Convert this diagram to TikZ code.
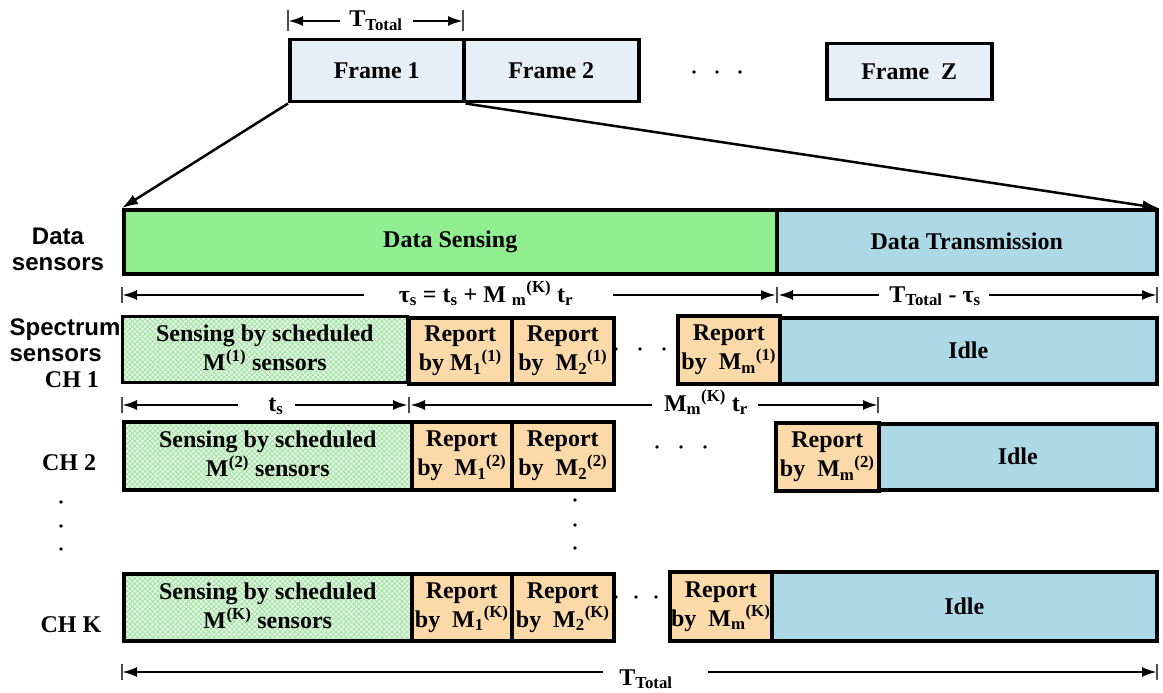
\documentclass[tikz,border=0pt]{standalone}
\usepackage{fontspec}
\setmainfont{Liberation Serif}
\newfontfamily\lsans{Liberation Sans}
\usetikzlibrary{arrows.meta,patterns.meta}

\definecolor{frameFill}{HTML}{E6EEF7}
\definecolor{senseFill}{HTML}{90EE90}
\definecolor{txFill}{HTML}{ADD8E6}
\definecolor{reportFill}{HTML}{FBD9A8}
\definecolor{meshBg}{HTML}{E2F7E2}
\definecolor{meshLn}{HTML}{9FE09F}

% T with "Total" index, and M with index and channel superscript
\newcommand{\Tt}{T\textsubscript{Total}}
\newcommand{\Mix}[2]{M\textsubscript{#1}\textsuperscript{(#2)}}

\begin{document}
\begin{tikzpicture}[x=1pt,y=-1pt,
  every node/.style={font=\fontsize{24}{29}\selectfont\bfseries, inner sep=0pt},
  cell/.style={draw, line width=3.5pt, align=center, anchor=north west},
  framecell/.style={cell, fill=frameFill},
  sensecell/.style={cell, fill=senseFill},
  txcell/.style={cell, fill=txFill},
  reportcell/.style={cell, fill=reportFill},
  meshcell/.style={cell,
    preaction={fill=meshBg},
    preaction={pattern={Lines[angle=45,distance=3.6pt,line width=0.7pt]}, pattern color=meshLn},
    pattern={Lines[angle=-45,distance=3.6pt,line width=0.7pt]}, pattern color=meshLn},
  sanslbl/.style={font=\lsans\fontsize{24}{26}\selectfont\bfseries},
  dimline/.style={line width=2.5pt, -{Latex[length=15pt,width=10pt]}},
  tick/.style={line width=1.3pt, black!70},
  zoomline/.style={line width=2.5pt, -{Latex[length=16pt,width=11pt]}},
  dot/.style={fill=black}
]
\useasboundingbox (0,0) rectangle (1163,693);

% ---------------- frame sequence ----------------
\node[framecell, minimum width=174pt, minimum height=62pt] (f1) at (288,38) {Frame 1};
\node[framecell, minimum width=175pt, minimum height=62pt] (f2) at (462,38) {Frame 2};
\node[framecell, minimum width=165pt, minimum height=56pt] (fz) at (825,42) {Frame\ \ Z};
\fill[dot] (694,72) circle (1.8) (717,72) circle (1.8) (740,72) circle (1.8);

% frame length
\coordinate (topL) at (288,21);
\coordinate (topR) at (463,21);
\coordinate (topLe) at (340,21);
\coordinate (topRs) at (413,21);
\node[anchor=base] (topT) at (376,27) {\Tt};
\draw[dimline] (topLe) -- (topL);
\draw[dimline] (topRs) -- (topR);
\draw[tick] (topL) ++(0,-11) -- ++(0,21);
\draw[tick] (topR) ++(0,-11) -- ++(0,21);

% ---------------- data sensors ----------------
\node[sensecell, minimum width=653pt, minimum height=64pt] (ds) at (122,208) {Data Sensing};
\node[txcell, minimum width=380pt, minimum height=64pt] (dt) at (775,208) {Data Transmission};
\node[sanslbl, align=center] (dsl) at (58,249) {Data\\sensors};

% zoom from the first frame onto the detailed time line
\draw[zoomline] (f1.south west) -- (ds.north west);
\draw[zoomline] (f1.south east) -- (dt.north east);

% sensing / transmission split
\coordinate (s1L) at (122,295);
\coordinate (s1M) at (777,295);
\coordinate (s1R) at (1157,295);
\coordinate (s1a) at (364,295);
\coordinate (s1b) at (613,295);
\coordinate (s1c) at (879,295);
\coordinate (s1d) at (989,295);
\node[anchor=base] (tauL) at (486,302) {τ\textsubscript{s} = t\textsubscript{s} + M \textsubscript{m}\textsuperscript{(K)} t\textsubscript{r}};
\node[anchor=base] (idleL) at (935,302) {\Tt\ - τ\textsubscript{s}};
\draw[dimline] (s1a) -- (s1L);
\draw[dimline] (s1b) -- ([xshift=-1pt]s1M);
\draw[dimline] (s1c) -- ([xshift=1pt]s1M);
\draw[dimline] (s1d) -- (s1R);
\draw[tick] (s1L) ++(0,-8) -- ++(0,16);
\draw[tick] (s1M) ++(0,-8) -- ++(0,16);
\draw[tick] (s1R) ++(0,-8) -- ++(0,16);

% ---------------- channel 1 ----------------
\node[sanslbl, align=left] (ssl) at (65,340) {Spectrum\\sensors};
\node[anchor=base] (ch1) at (72,387) {CH 1};
\node[meshcell, minimum width=285pt, minimum height=66pt] (c1s) at (122,316) {Sensing by scheduled\\\Mix{}{1} sensors};
\node[reportcell, minimum width=103pt, minimum height=66pt] (c1r1) at (407,316) {Report\\by \Mix{1}{1}};
\node[reportcell, minimum width=102pt, minimum height=66pt] (c1r2) at (510,316) {Report\\by\ \ \Mix{2}{1}};
\node[reportcell, minimum width=102pt, minimum height=68pt] (c1rm) at (676,314) {Report\\by\ \ \Mix{m}{1}};
\node[txcell, minimum width=377pt, minimum height=66pt] (c1i) at (778,316) {Idle};
\fill[dot] (616,349) circle (1.8) (640,349) circle (1.8) (664,349) circle (1.8);

% sensing time and reporting time
\coordinate (s2L) at (122,405);
\coordinate (s2M) at (409,405);
\coordinate (s2R) at (878,405);
\coordinate (s2a) at (238,405);
\coordinate (s2b) at (295,405);
\coordinate (s2c) at (652,405);
\coordinate (s2d) at (758,405);
\node[anchor=base] (tsL) at (276,411) {t\textsubscript{s}};
\node[anchor=base] (trL) at (706,411) {\Mix{m}{K} t\textsubscript{r}};
\draw[dimline] (s2a) -- (s2L);
\draw[dimline] (s2b) -- ([xshift=-1pt]s2M);
\draw[dimline] (s2c) -- ([xshift=1pt]s2M);
\draw[dimline] (s2d) -- (s2R);
\draw[tick] (s2L) ++(0,-8) -- ++(0,16);
\draw[tick] (s2M) ++(0,-8) -- ++(0,16);
\draw[tick] (s2R) ++(0,-8) -- ++(0,16);

% ---------------- channel 2 ----------------
\node[anchor=base] (ch2) at (69,470) {CH 2};
\node[meshcell, minimum width=288pt, minimum height=68pt] (c2s) at (122,420) {Sensing by scheduled\\\Mix{}{2} sensors};
\node[reportcell, minimum width=100pt, minimum height=68pt] (c2r1) at (410,420) {Report\\by\ \ \Mix{1}{2}};
\node[reportcell, minimum width=102pt, minimum height=68pt] (c2r2) at (510,420) {Report\\by\ \ \Mix{2}{2}};
\node[reportcell, minimum width=103pt, minimum height=68pt] (c2rm) at (774,421) {Report\\by\ \ \Mix{m}{2}};
\node[txcell, minimum width=278pt, minimum height=66pt] (c2i) at (877,422) {Idle};
\fill[dot] (657,447) circle (1.8) (681,447) circle (1.8) (705,447) circle (1.8);

% further channels
\fill[dot] (61,502) circle (1.8) (61,526) circle (1.8) (61,549) circle (1.8);
\fill[dot] (575,500) circle (1.8) (575,525) circle (1.8) (575,548) circle (1.8);

% ---------------- channel K ----------------
\node[anchor=base] (chk) at (71,632) {CH K};
\node[meshcell, minimum width=288pt, minimum height=67pt] (cks) at (122,572) {Sensing by scheduled\\\Mix{}{K} sensors};
\node[reportcell, minimum width=100pt, minimum height=67pt] (ckr1) at (410,572) {Report\\by\ \ \Mix{1}{K}};
\node[reportcell, minimum width=102pt, minimum height=67pt] (ckr2) at (510,572) {Report\\by\ \ \Mix{2}{K}};
\node[reportcell, minimum width=102pt, minimum height=69pt] (ckrm) at (668,570) {Report\\by\ \ \Mix{m}{K}};
\node[txcell, minimum width=385pt, minimum height=69pt] (cki) at (770,570) {Idle};
\fill[dot] (616,597) circle (1.8) (636,597) circle (1.8) (656,597) circle (1.8);

% whole frame length
\coordinate (s3L) at (122,672);
\coordinate (s3R) at (1157,672);
\coordinate (s3a) at (603,672);
\coordinate (s3b) at (708,672);
\node[anchor=base] (totL) at (646,685) {\Tt};
\draw[dimline] (s3a) -- (s3L);
\draw[dimline] (s3b) -- (s3R);
\draw[tick] (s3L) ++(0,-8) -- ++(0,16);
\draw[tick] (s3R) ++(0,-8) -- ++(0,16);
\end{tikzpicture}
\end{document}
